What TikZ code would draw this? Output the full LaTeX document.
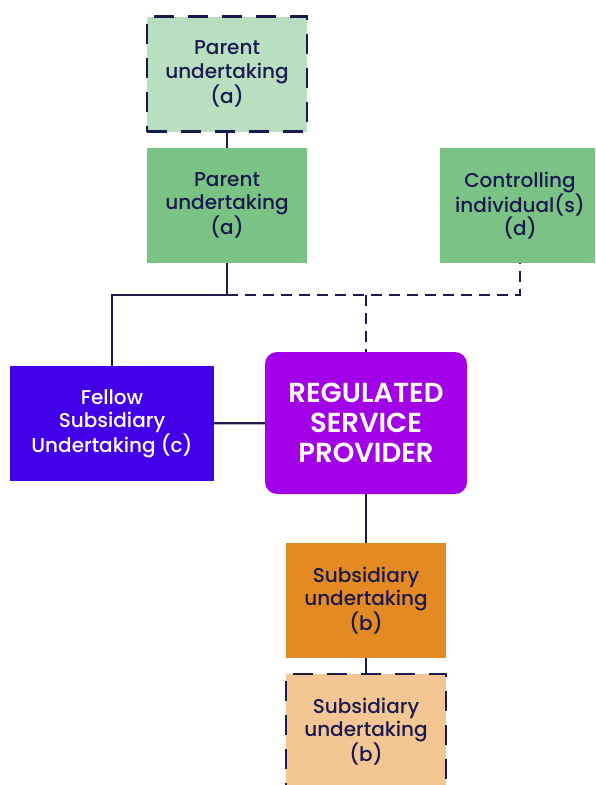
\documentclass[tikz,border=0pt]{standalone}
\usepackage{fontspec}
\setmainfont{Poppins}[UprightFont = * Medium, BoldFont = * SemiBold]
\usepackage{tikz}
\usetikzlibrary{positioning}
\definecolor{lineColor}{RGB}{27,26,79}
\definecolor{parentLight}{RGB}{185,223,192}
\definecolor{parentDark}{RGB}{123,194,133}
\definecolor{fellowColor}{RGB}{67,0,232}
\definecolor{providerColor}{RGB}{162,0,230}
\definecolor{subsidiaryDark}{RGB}{227,138,34}
\definecolor{subsidiaryLight}{RGB}{243,198,148}
\tikzstyle{chart} = [x = 1pt, y = -1pt]
\tikzstyle{boxStyle} = [rectangle, minimum width = 160pt, minimum height = 115pt, inner sep = 0pt, align = center, text = lineColor, font = \fontsize{20}{23.5}\selectfont]
\tikzstyle{maybeBox} = [boxStyle, draw = lineColor, line width = 2.4pt, dash pattern = on 20pt off 14pt]
\tikzstyle{linkLine} = [color = lineColor, line width = 2.2pt]
\tikzstyle{linkDashed} = [linkLine, dash pattern = on 11pt off 7pt]
\newcommand{\orgBox}[4]{\node [boxStyle, fill = #2] (#1) at (#3) {#4};}
\newcommand{\orgMaybeBox}[4]{\node [maybeBox, fill = #2] (#1) at (#3) {#4};}

\begin{document}
\begin{tikzpicture}[chart]
  \useasboundingbox (0,0) rectangle (595,785);
  \clip (0,0) rectangle (595,785);
  \orgMaybeBox{parentTop}{parentLight}{227,74}{Parent\\undertaking\\(a)}
  \orgBox{parentLow}{parentDark}{227,205.5}{Parent\\undertaking\\(a)}
  \orgBox{control}{parentDark}{520,205.5}{Controlling\\individual(s)\\(d)}
  \node [boxStyle, fill = fellowColor, text = white, minimum width = 204pt] (fellow) at (112,423.5) {Fellow\\Subsidiary\\Undertaking (c)};
  \node [boxStyle, fill = providerColor, text = white, minimum width = 202pt, minimum height = 142pt, rounded corners = 12pt, font = \fontsize{27.5}{30}\selectfont\bfseries] (provider) at (366,423) {REGULATED\\SERVICE\\PROVIDER};
  \orgBox{subLow}{subsidiaryDark}{366,600.5}{Subsidiary\\undertaking\\(b)}
  \orgMaybeBox{subTop}{subsidiaryLight}{366,731.5}{Subsidiary\\undertaking\\(b)}

  % junctions on the link row
  \coordinate (parentJoin) at (227,295);
  \coordinate (providerJoin) at (provider.north |- parentJoin);
  \coordinate (controlJoin) at (control.south |- parentJoin);

  \draw [linkLine] (parentTop) -- (parentLow);
  \draw [linkLine] (parentLow) -- (parentJoin) -| (fellow);
  \draw [linkDashed] (parentJoin) -- (controlJoin) -- (control);
  \draw [linkDashed] (providerJoin) -- (provider);
  \draw [linkLine] (fellow) -- (provider);
  \draw [linkLine] (provider) -- (subLow);
  \draw [linkLine] (subLow) -- (subTop);
\end{tikzpicture}
\end{document}
